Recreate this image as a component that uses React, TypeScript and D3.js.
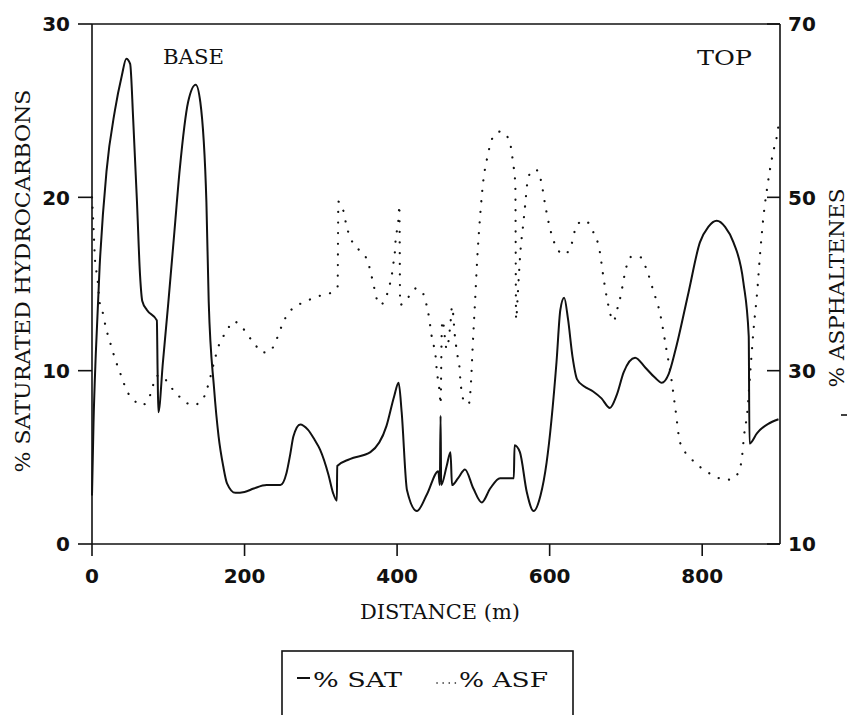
import React from "react";
import * as d3 from "d3";

// % saturated hydrocarbons (left axis) vs distance (m)
const satDistance = [
  0, 2, 5, 10, 19, 30, 39, 45, 50, 54, 59, 63, 66, 72, 85, 86, 87, 93, 100, 108,
  115, 126, 136, 142, 150, 153, 160, 166, 172, 177, 188, 200, 212, 229, 247, 255,
  260, 264, 273, 283, 292, 299, 310, 316, 321, 321.5, 338, 365, 386, 396, 402, 406,
  413, 426, 439, 454, 456, 457, 457.8, 465, 470, 472, 480, 489, 500, 511, 522, 535,
  553, 554, 561, 570, 579, 588, 596, 609, 614, 619, 624, 630, 636, 645, 657, 668,
  679, 688, 697, 712, 725, 738, 747, 756, 765, 782, 797, 808, 819, 830, 841, 854,
  861, 862, 872, 900,
];
const satValue = [
  2.8, 7, 11, 16, 21.5, 25, 27, 28, 27.7, 24.5, 19.7, 15.5, 14, 13.5, 12.9, 10, 7.6,
  10.5, 13.9, 18, 21.6, 25.5, 26.5, 25.5, 19.7, 14, 9, 6.2, 4.5, 3.5, 2.95, 3.0, 3.2,
  3.4, 3.4, 4.1, 5.2, 6.2, 6.9, 6.6, 6.0, 5.45, 4, 2.95, 2.5, 4.5, 4.9, 5.3, 6.8, 8.5,
  9.3, 7.6, 3.1, 1.9, 2.85, 4.2, 3.4, 7.4, 3.4, 4.5, 5.3, 3.4, 3.8, 4.3, 3.2, 2.4, 3.2,
  3.8, 3.8, 5.7, 5.3, 3.0, 1.9, 2.8, 4.7, 10.5, 13.5, 14.2, 13, 10.8, 9.5, 9.1, 8.8,
  8.4, 7.85, 8.6, 9.9, 10.75, 10.2, 9.6, 9.3, 9.8, 11.2, 14.5, 17.4, 18.3, 18.65,
  18.3, 17.4, 15.1, 12.0, 5.8, 6.4, 7.2,
];

// % asphaltenes (right axis) vs distance (m)
const asfDistance = [
  0, 2, 4, 7, 10, 15, 18, 22, 26, 30, 35, 40, 45, 54, 65, 75, 80, 85, 92, 100, 109,
  120, 131, 144, 150, 161, 165, 170, 178, 185, 196, 205, 214, 222.5, 233, 240, 249,
  257, 283, 297, 311, 322, 323, 330, 333, 337, 344, 354, 362, 366, 369, 372, 378,
  386, 390, 393, 395, 397, 398, 400, 402, 403, 404, 416, 425, 436, 439, 442, 444,
  446, 449, 451, 452, 454, 456, 457, 458.5, 459.5, 465, 470, 472, 476, 480, 482,
  483, 485, 488, 494, 497, 499, 502, 505, 509, 513, 518, 526, 536, 547, 552, 555,
  556, 558, 560, 562, 565, 568, 571, 577, 584, 589, 594, 600, 609, 619, 628, 636,
  647, 656, 666, 670, 675, 684, 688, 692, 701, 708, 719, 727, 736, 745, 753, 759,
  765, 771, 785, 800, 815, 830, 840, 848, 852, 855, 859, 863, 867, 872, 876, 881,
  885, 889, 893, 898, 900,
];
const asfValue = [
  50, 46.5, 42.7, 40.8, 37.9, 36.4, 35, 33.8, 32.6, 31.4, 30.2, 29, 27.8, 26.7, 26,
  26.9, 28.3, 29.4, 29.4, 28.5, 27.5, 26.6, 26, 26.5, 27.7, 31.3, 32.6, 33.6, 34.8,
  35.7, 35.1, 34, 33, 32.1, 32.2, 33.2, 35.2, 36.6, 38.1, 38.6, 38.9, 39.7, 49.5,
  48.3, 47, 45.7, 44.5, 43.6, 42.5, 41.1, 40, 38.7, 37.6, 38.6, 39.8, 41, 42.3, 43.6,
  45, 46.3, 47.7, 49.1, 37.6, 38.6, 39.5, 38.6, 37.4, 36.1, 34.8, 33.6, 32.5, 31.2,
  30, 28.8, 27.3, 26.1, 34.4, 35.8, 32.5, 35.5, 37.4, 33.8, 31.3, 30.2, 28.8, 27.5,
  26.3, 26.2, 28.8, 32.6, 37.6, 42.8, 48, 51.9, 54.5, 57, 57.6, 56.6, 54, 51.4, 35.9,
  38.4, 41.5, 44.1, 46.6, 49.2, 51.8, 53.1, 53.1, 51.8, 49.2, 46.6, 44.2, 43.4, 44.4,
  46.9, 47.3, 46.2, 43.6, 41.1, 38.4, 35.7, 36.9, 38.2, 42.1, 43.2, 43.1, 41.7, 39.2,
  36.5, 32.5, 29.4, 25.5, 21.7, 19.9, 18.7, 17.9, 17.4, 17.5, 18.4, 19.9, 22.6, 25.1,
  29.8, 34.4, 39, 43.6, 48.3, 51, 53.3, 55.2, 57.1, 58.3,
];

const xTicks = [0, 200, 400, 600, 800];
const satTicks = [0, 10, 20, 30];
const asfTicks = [10, 30, 50, 70];

const W = 851;
const H = 715;
const M = { top: 24, right: 71, bottom: 171, left: 92 };

const numFont = "'DejaVu Sans', sans-serif";
const textFont = "'DejaVu Serif', 'Liberation Serif', serif";

const App = () => {
  const innerW = W - M.left - M.right;
  const innerH = H - M.top - M.bottom;

  const x = d3.scaleLinear().domain([0, 902]).range([M.left, M.left + innerW]);
  const ySat = d3.scaleLinear().domain([0, 30]).range([M.top + innerH, M.top]);
  const yAsf = d3.scaleLinear().domain([10, 70]).range([M.top + innerH, M.top]);

  const satLine = d3
    .line<number>()
    .x((d, i) => x(satDistance[i]))
    .y((d) => ySat(d))
    .curve(d3.curveMonotoneX);
  const asfLine = d3
    .line<number>()
    .x((d, i) => x(asfDistance[i]))
    .y((d) => yAsf(d))
    .curve(d3.curveMonotoneX);

  const x0 = M.left;
  const x1 = M.left + innerW;
  const y0 = M.top;
  const y1 = M.top + innerH;

  return (
    <svg
      width={W}
      height={H}
      style={{ position: "absolute", left: 0, top: 0, background: "#fff" }}
    >
      {/* frame */}
      <g stroke="#111" strokeWidth={1.6} fill="none">
        <line x1={x0} x2={x1} y1={y0} y2={y0} />
        <line x1={x0} x2={x1} y1={y1} y2={y1} />
        <line x1={x0} x2={x0} y1={y0} y2={y1} />
        <line x1={x1} x2={x1} y1={y0} y2={y1} />
      </g>

      {/* left axis */}
      {satTicks.map((t) => (
        <g key={"s" + t}>
          <line x1={x0 - 14} x2={x0} y1={ySat(t)} y2={ySat(t)} stroke="#111" strokeWidth={1.6} />
          <text
            x={x0 - 22}
            y={ySat(t)}
            dy="0.36em"
            textAnchor="end"
            fontFamily={numFont}
            fontWeight="bold"
            fontSize={20}
            fill="#111"
          >
            {t}
          </text>
        </g>
      ))}

      {/* right axis */}
      {asfTicks.map((t) => (
        <g key={"a" + t}>
          <line x1={x1 - 13} x2={x1} y1={yAsf(t)} y2={yAsf(t)} stroke="#111" strokeWidth={1.6} />
          <text
            x={x1 + 8}
            y={yAsf(t)}
            dy="0.36em"
            textAnchor="start"
            fontFamily={numFont}
            fontWeight="bold"
            fontSize={20}
            fill="#111"
          >
            {t}
          </text>
        </g>
      ))}

      {/* bottom axis */}
      {xTicks.map((t) => (
        <g key={"x" + t}>
          <line x1={x(t)} x2={x(t)} y1={y1} y2={y1 + 12} stroke="#111" strokeWidth={1.6} />
          <text
            x={x(t)}
            y={y1 + 32}
            dy="0.36em"
            textAnchor="middle"
            fontFamily={numFont}
            fontWeight="bold"
            fontSize={20}
            fill="#111"
          >
            {t}
          </text>
        </g>
      ))}

      {/* series */}
      <path d={asfLine(asfValue) ?? ""} fill="none" stroke="#111" strokeWidth={2.2} strokeLinecap="round" strokeDasharray="0.1 10.5" />
      <path d={satLine(satValue) ?? ""} fill="none" stroke="#111" strokeWidth={2} strokeLinejoin="round" />

      {/* annotations */}
      <text x={163} y={57} dy="0.36em" fontFamily={textFont} fontSize={20} fill="#111" textLength={61} lengthAdjust="spacingAndGlyphs">
        BASE
      </text>
      <text x={697} y={58} dy="0.36em" fontFamily={textFont} fontSize={20} fill="#111" textLength={55} lengthAdjust="spacingAndGlyphs">
        TOP
      </text>

      {/* axis titles */}
      <text
        transform={`translate(22,${281}) rotate(-90)`}
        textAnchor="middle"
        dy="0.36em"
        fontFamily={textFont}
        fontSize={21}
        fill="#111"
        textLength={383}
        lengthAdjust="spacingAndGlyphs"
      >
        % SATURATED HYDROCARBONS
      </text>
      <text
        transform={`translate(836,${288}) rotate(-90)`}
        textAnchor="middle"
        dy="0.36em"
        fontFamily={textFont}
        fontSize={21}
        fill="#111"
        textLength={199}
        lengthAdjust="spacingAndGlyphs"
      >
        % ASPHALTENES
      </text>
      <line x1={841} x2={847} y1={415} y2={415} stroke="#111" strokeWidth={1.6} />
      <text
        x={440}
        y={612}
        dy="0.36em"
        textAnchor="middle"
        fontFamily={textFont}
        fontSize={20}
        fill="#111"
        textLength={160}
        lengthAdjust="spacingAndGlyphs"
      >
        DISTANCE (m)
      </text>

      {/* legend */}
      <rect x={282} y={651} width={291} height={80} fill="none" stroke="#111" strokeWidth={1.6} />
      <line x1={297} x2={310} y1={678} y2={678} stroke="#111" strokeWidth={2} />
      <text x={313} y={679} dy="0.36em" fontFamily={textFont} fontSize={21} fill="#111" textLength={89} lengthAdjust="spacingAndGlyphs">
        % SAT
      </text>
      <line x1={437} x2={456} y1={683} y2={683} stroke="#111" strokeWidth={1.6} strokeLinecap="round" strokeDasharray="0.1 6" />
      <text x={459} y={679} dy="0.36em" fontFamily={textFont} fontSize={21} fill="#111" textLength={89} lengthAdjust="spacingAndGlyphs">
        % ASF
      </text>
    </svg>
  );
};

export default App;
